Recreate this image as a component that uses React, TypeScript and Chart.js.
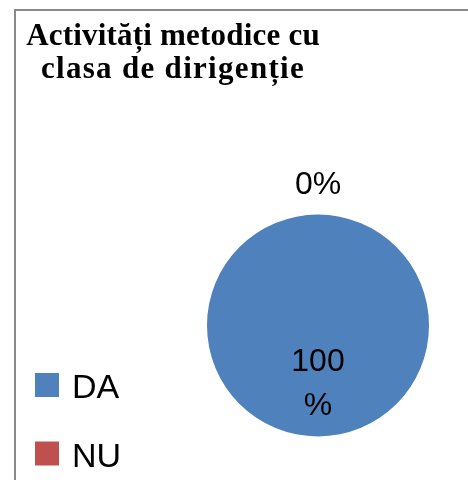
import React, { useEffect, useRef } from "react";
import { Chart, registerables } from "chart.js";

Chart.register(...registerables);

const titleLines = ["Activități metodice cu", "clasa de dirigenție"];
const categories = ["DA", "NU"];
const values = [100, 0];
const colors = ["#4F81BD", "#C0504D"];

const overlayPlugin = {
  id: "overlay",
  afterDraw(chart: any) {
    const ctx = chart.ctx as CanvasRenderingContext2D;
    ctx.save();
    // Title
    ctx.fillStyle = "#000";
    ctx.font = "bold 31px 'Liberation Serif', 'Times New Roman', serif";
    ctx.textAlign = "center";
    ctx.textBaseline = "alphabetic";
    const spacing = ["0.2px", "1.3px"];
    titleLines.forEach((line, i) => {
      (ctx as any).letterSpacing = spacing[i] || "0px";
      ctx.fillText(line, 173, 45 + i * 33);
    });
    (ctx as any).letterSpacing = "0px";

    // Legend
    const labels: string[] = chart.data.labels;
    const bg: string[] = chart.data.datasets[0].backgroundColor;
    ctx.textAlign = "left";
    ctx.font = "34px 'Liberation Sans', Arial, sans-serif";
    labels.forEach((lab, i) => {
      const top = 373 + i * 68.5;
      ctx.fillStyle = bg[i];
      ctx.fillRect(35, top, 24, 24);
      ctx.fillStyle = "#000";
      ctx.fillText(lab, 72, top + 25);
    });

    // Data labels
    const meta = chart.getDatasetMeta(0);
    const data: number[] = chart.data.datasets[0].data;
    const total = data.reduce((a, b) => a + b, 0);
    ctx.font = "32px 'Liberation Sans', Arial, sans-serif";
    ctx.textAlign = "center";
    ctx.textBaseline = "middle";
    ctx.fillStyle = "#000";
    meta.data.forEach((arc: any, i: number) => {
      const { x, y, startAngle, endAngle, outerRadius } = arc.getProps(
        ["x", "y", "startAngle", "endAngle", "outerRadius"],
        true
      );
      const mid = (startAngle + endAngle) / 2;
      const pct = Math.round((data[i] / total) * 100);
      const text = pct + "%";
      if (pct === 0) {
        const d = outerRadius + 29;
        ctx.fillText(text, x + Math.cos(mid) * d, y + Math.sin(mid) * d);
      } else {
        const d = outerRadius * 0.53;
        const lx = x + Math.cos(mid) * d;
        const ly = y + Math.sin(mid) * d;
        const lines = pct >= 100 ? [String(pct), "%"] : [text];
        const lh = 44;
        lines.forEach((ln, k) => {
          ctx.fillText(ln, lx, ly + (k - (lines.length - 1) / 2) * lh);
        });
      }
    });
    ctx.restore();
  },
};

export default function App() {
  const ref = useRef<HTMLCanvasElement | null>(null);
  useEffect(() => {
    if (!ref.current) return;
    const chart = new Chart(ref.current, {
      type: "pie",
      data: {
        labels: categories,
        datasets: [
          {
            data: values,
            backgroundColor: colors,
            borderWidth: 0,
          },
        ],
      },
      options: {
        responsive: false,
        animation: false,
        layout: { padding: { left: 207, right: 39, top: 214, bottom: 43 } },
        plugins: {
          legend: { display: false },
          title: { display: false },
          tooltip: { enabled: false },
        },
      },
      plugins: [overlayPlugin],
    });
    return () => chart.destroy();
  }, []);
  return (
    <div style={{ position: "absolute", left: 0, top: 0, width: 468, height: 480, background: "#fff", overflow: "hidden" }}>
      <div
        style={{
          position: "absolute",
          left: 14,
          top: 9,
          width: 500,
          height: 500,
          borderLeft: "2px solid #8a8a8a",
          borderTop: "2px solid #8a8a8a",
        }}
      />
      <canvas ref={ref} width={468} height={480} style={{ position: "absolute", left: 0, top: 0, width: 468, height: 480 }} />
    </div>
  );
}
